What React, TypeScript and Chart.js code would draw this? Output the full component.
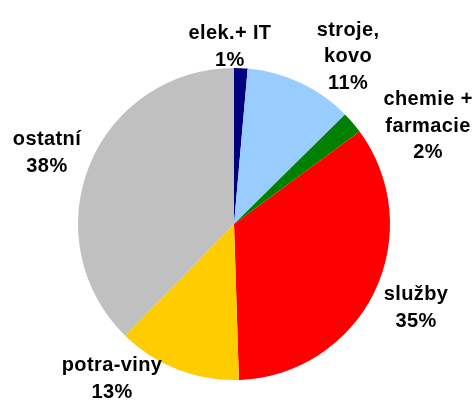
import React, { useEffect, useRef } from "react";
import { Chart, registerables } from "chart.js";

Chart.register(...registerables);

const categories: string[][] = [
  ["elek.+ IT"],
  ["stroje,", "kovo"],
  ["chemie +", "farmacie"],
  ["služby"],
  ["potra-viny"],
  ["ostatní"],
];
const shares: number[] = [1.4, 11.2, 2.3, 34.6, 12.8, 37.7];
const sliceColors: string[] = ["#000080", "#99CCFF", "#008000", "#FF0000", "#FFCC00", "#C0C0C0"];

// label box centres, relative to the pie centre, in units of the pie radius
const labelPlacement: [number, number][] = [
  [-0.026, -1.135],
  [0.731, -1.071],
  [1.244, -0.628],
  [1.167, 0.538],
  [-0.782, 0.994],
  [-1.199, -0.455],
];

const labelPlugin = {
  id: "pieLabels",
  afterDatasetsDraw(chart: any) {
    const ctx = chart.ctx;
    const meta = chart.getDatasetMeta(0);
    const data: number[] = chart.data.datasets[0].data;
    const total = data.reduce((a, b) => a + b, 0);
    ctx.save();
    ctx.font = "bold 20px 'Liberation Sans', Arial, sans-serif";
    try { (ctx as any).letterSpacing = "0.4px"; } catch (e) {}
    ctx.fillStyle = "#000";
    ctx.textAlign = "center";
    ctx.textBaseline = "middle";
    const lh = 26.5;
    meta.data.forEach((arc: any, i: number) => {
      const { x, y, outerRadius } = arc.getProps(["x", "y", "outerRadius"], true);
      const pct = Math.round((data[i] / total) * 100) + "%";
      const lines = [...categories[i], pct];
      const cx = x + labelPlacement[i][0] * outerRadius;
      const cy = y + labelPlacement[i][1] * outerRadius;
      const top = cy - ((lines.length - 1) * lh) / 2;
      lines.forEach((ln, k) => ctx.fillText(ln, cx, top + k * lh));
    });
    ctx.restore();
  },
};

export default function App() {
  const ref = useRef<HTMLCanvasElement>(null);
  useEffect(() => {
    if (!ref.current) return;
    const chart = new Chart(ref.current, {
      type: "pie",
      data: {
        labels: categories.map((c) => c.join(" ")),
        datasets: [
          {
            data: shares,
            backgroundColor: sliceColors,
            borderWidth: 0,
          },
        ],
      },
      options: {
        responsive: false,
        animation: false,
        layout: { padding: { left: 78, right: 86, top: 68, bottom: 21 } },
        plugins: { legend: { display: false }, tooltip: { enabled: false } },
      },
      plugins: [labelPlugin],
    });
    return () => chart.destroy();
  }, []);
  return (
    <div style={{ position: "absolute", left: 0, top: 0, width: 476, height: 401, background: "#fff" }}>
      <canvas ref={ref} width={476} height={401} style={{ width: 476, height: 401, display: "block" }} />
    </div>
  );
}
